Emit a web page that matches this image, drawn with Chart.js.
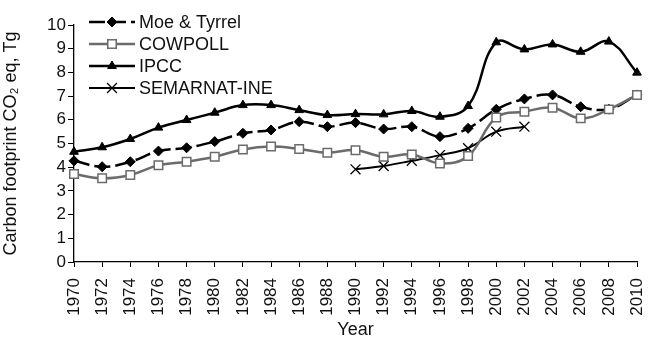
<!DOCTYPE html>
<html lang="en">
<head>
  <meta charset="UTF-8"/>
  <title>Carbon footprint</title>
  <script src="https://cdn.jsdelivr.net/npm/chart.js@4.4.1/dist/chart.umd.min.js"></script>
  <style>
    html, body { margin: 0; padding: 0; background: #fff; }
    #wrap { width: 651px; height: 339px; position: relative; }
  </style>
</head>
<body>
  <div id="wrap"><canvas id="chart" width="651" height="339"></canvas></div>
  <script>
    const years = ['1970','1972','1974','1976','1978','1980','1982','1984','1986','1988','1990',
                   '1992','1994','1996','1998','2000','2002','2004','2006','2008','2010'];
    const moeTyrrel = [4.27, 4.02, 4.23, 4.68, 4.82, 5.08, 5.43, 5.57, 5.92, 5.71, 5.88,
                       5.61, 5.71, 5.29, 5.64, 6.44, 6.88, 7.05, 6.55, 6.45, 7.05];
    const cowpoll = [3.71, 3.53, 3.67, 4.08, 4.23, 4.44, 4.75, 4.87, 4.77, 4.61, 4.72,
                     4.44, 4.54, 4.16, 4.47, 6.10, 6.34, 6.51, 6.06, 6.44, 7.05];
    const ipcc = [4.65, 4.84, 5.19, 5.67, 5.99, 6.30, 6.62, 6.62, 6.41, 6.20, 6.24,
                  6.23, 6.37, 6.13, 6.58, 9.27, 8.97, 9.18, 8.87, 9.30, 7.99];
    const semarnat = [null, null, null, null, null, null, null, null, null, null, 3.91,
                      4.05, 4.27, 4.51, 4.80, 5.50, 5.71, null, null, null, null];
    const seriesNames = ['Moe & Tyrrel', 'COWPOLL', 'IPCC', 'SEMARNAT-INE'];

    const FONT = '"Liberation Sans", Arial, sans-serif';
    Chart.defaults.font.family = FONT;
    Chart.defaults.color = '#111';

    // legend drawn inside the plot, line + marker like the original
    const insideLegend = {
      id: 'insideLegend',
      afterDraw(chart) {
        const ctx = chart.ctx;
        const rows = [22, 44, 66, 88];
        chart.data.datasets.forEach((ds, i) => {
          const y = rows[i];
          ctx.save();
          ctx.strokeStyle = ds.borderColor;
          ctx.lineWidth = ds.borderWidth;
          ctx.setLineDash(ds.borderDash || []);
          ctx.beginPath();
          ctx.moveTo(89, y);
          ctx.lineTo(135, y);
          ctx.stroke();
          ctx.setLineDash([]);
          ctx.fillStyle = ds.pointBackgroundColor;
          ctx.strokeStyle = ds.pointBorderColor;
          ctx.lineWidth = ds.pointBorderWidth;
          Chart.helpers.drawPoint(ctx, {
            pointStyle: ds.pointStyle,
            radius: ds.pointRadius,
            borderWidth: ds.pointBorderWidth,
            rotation: 0
          }, 112, y);
          ctx.fillStyle = '#111';
          ctx.font = '18px ' + FONT;
          ctx.textBaseline = 'middle';
          ctx.textAlign = 'left';
          ctx.fillText(seriesNames[i], 139, y + 1);
          ctx.restore();
        });
      }
    };

    new Chart(document.getElementById('chart'), {
      type: 'line',
      data: {
        labels: years,
        datasets: [
          {
            label: seriesNames[0], data: moeTyrrel, order: 2,
            borderColor: '#000', borderWidth: 2.5, borderDash: [16, 5], tension: 0.4,
            pointStyle: 'rectRot', pointRadius: 5, pointBackgroundColor: '#000',
            pointBorderColor: '#000', pointBorderWidth: 1
          },
          {
            label: seriesNames[1], data: cowpoll, order: 0,
            borderColor: '#6b6b6b', borderWidth: 2.5, tension: 0.4,
            pointStyle: 'rect', pointRadius: 6, pointBackgroundColor: '#fff',
            pointBorderColor: '#6b6b6b', pointBorderWidth: 1.5
          },
          {
            label: seriesNames[2], data: ipcc, order: 3,
            borderColor: '#000', borderWidth: 2.5, tension: 0.4,
            pointStyle: 'triangle', pointRadius: 5, pointBackgroundColor: '#000',
            pointBorderColor: '#000', pointBorderWidth: 1
          },
          {
            label: seriesNames[3], data: semarnat, order: 1,
            borderColor: '#000', borderWidth: 2, tension: 0.4,
            pointStyle: 'crossRot', pointRadius: 7, pointBackgroundColor: '#000',
            pointBorderColor: '#000', pointBorderWidth: 1.3
          }
        ]
      },
      options: {
        responsive: false,
        animation: false,
        layout: { padding: { left: 0, right: 14, top: 25, bottom: 0 } },
        plugins: { legend: { display: false }, tooltip: { enabled: false } },
        scales: {
          x: {
            type: 'category',
            offset: false,
            grid: { display: true, drawOnChartArea: false, drawTicks: true, tickLength: 5, color: '#000', lineWidth: 1 },
            border: { display: true, color: '#000', width: 1.3 },
            ticks: { autoSkip: false, maxRotation: 90, minRotation: 90, padding: 11, color: '#111', font: { size: 17 } },
            title: { display: true, text: 'Year', color: '#111', font: { size: 18, lineHeight: 1 }, padding: { top: 0, bottom: 0 } },
            afterFit(scale) {
              scale.height = 77;
              scale.paddingLeft = 0;
              scale.paddingRight = 0;
            }
          },
          y: {
            min: 0, max: 10,
            grid: { display: true, drawOnChartArea: false, drawTicks: true, tickLength: 6, color: '#000', lineWidth: 1 },
            border: { display: true, color: '#000', width: 1.3 },
            ticks: { stepSize: 1, padding: 2, color: '#111', font: { size: 17 } },
            title: { display: true, text: 'Carbon footprint CO\u2082 eq, Tg', color: '#111', font: { size: 18 }, padding: { top: 0, bottom: 0 } },
            afterFit(scale) {
              scale.width = 74;
              scale.paddingTop = 0;
              scale.paddingBottom = 0;
            }
          }
        }
      },
      plugins: [insideLegend]
    });
  </script>
</body>
</html>
